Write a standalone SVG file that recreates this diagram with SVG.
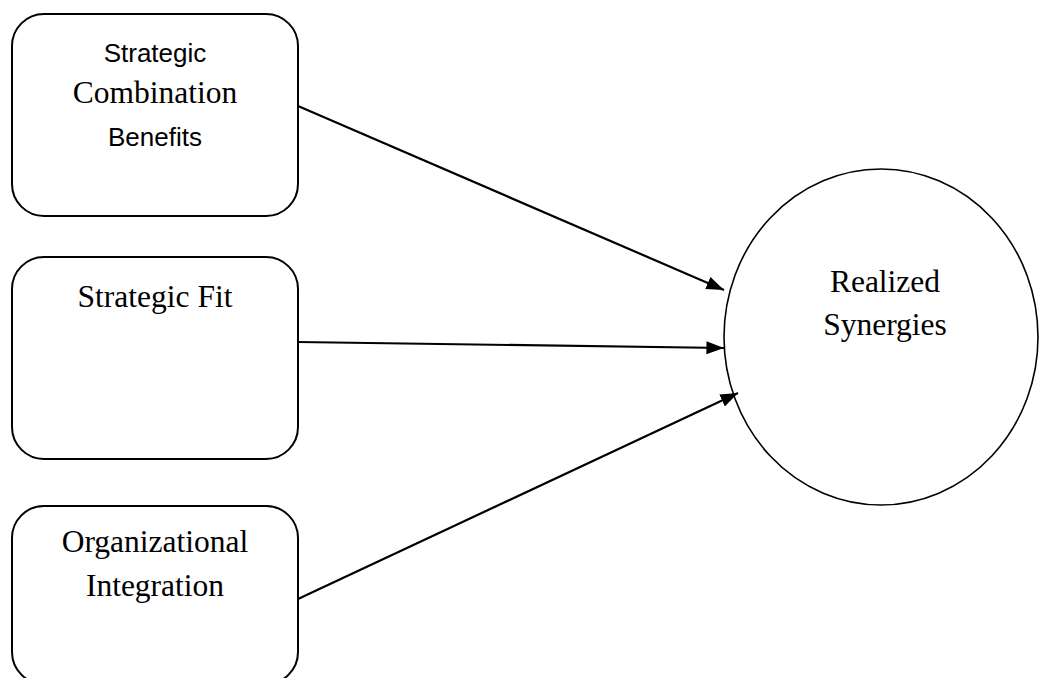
<svg xmlns="http://www.w3.org/2000/svg" width="1039" height="678" viewBox="0 0 1039 678">
<style>
.box{fill:#fff;stroke:#000;stroke-width:2}
.ell{fill:#fff;stroke:#000;stroke-width:1.6}
.serif{font-family:"Liberation Serif","Times New Roman",serif;font-size:31.5px;fill:#000;text-anchor:middle}
.sans{font-family:"Liberation Sans",Arial,sans-serif;font-size:26px;fill:#000;text-anchor:middle}
.conn{stroke:#000;stroke-width:2.2;fill:none;marker-end:url(#ah)}
</style>
<defs>
<marker id="ah" markerWidth="8" markerHeight="6" refX="8" refY="3" orient="auto" markerUnits="strokeWidth">
<path d="M0,0 L8,3 L0,6 Z" fill="#000"/>
</marker>
</defs>
<rect width="1039" height="678" fill="#fff"/>
<g id="node-scb">
<rect class="box" x="12" y="14" width="286" height="202" rx="32" ry="32"/>
<text class="sans" x="155" y="62">Strategic</text>
<text class="serif" x="155" y="103">Combination</text>
<text class="sans" x="155" y="146">Benefits</text>
</g>
<g id="node-sf">
<rect class="box" x="12" y="257" width="286" height="202" rx="32" ry="32"/>
<text class="serif" x="155" y="307">Strategic Fit</text>
</g>
<g id="node-oi">
<rect class="box" x="12" y="506" width="286" height="178" rx="32" ry="32"/>
<text class="serif" x="155" y="552">Organizational</text>
<text class="serif" x="155" y="596">Integration</text>
</g>
<g id="node-rs">
<ellipse class="ell" cx="881" cy="337" rx="157" ry="168"/>
<text class="serif" x="885" y="292">Realized</text>
<text class="serif" x="885" y="335">Synergies</text>
</g>
<g id="connectors">
<line class="conn" x1="298" y1="106" x2="724" y2="290"/>
<line class="conn" x1="298" y1="342" x2="724" y2="348"/>
<line class="conn" x1="298" y1="599" x2="738" y2="393"/>
</g>
</svg>
